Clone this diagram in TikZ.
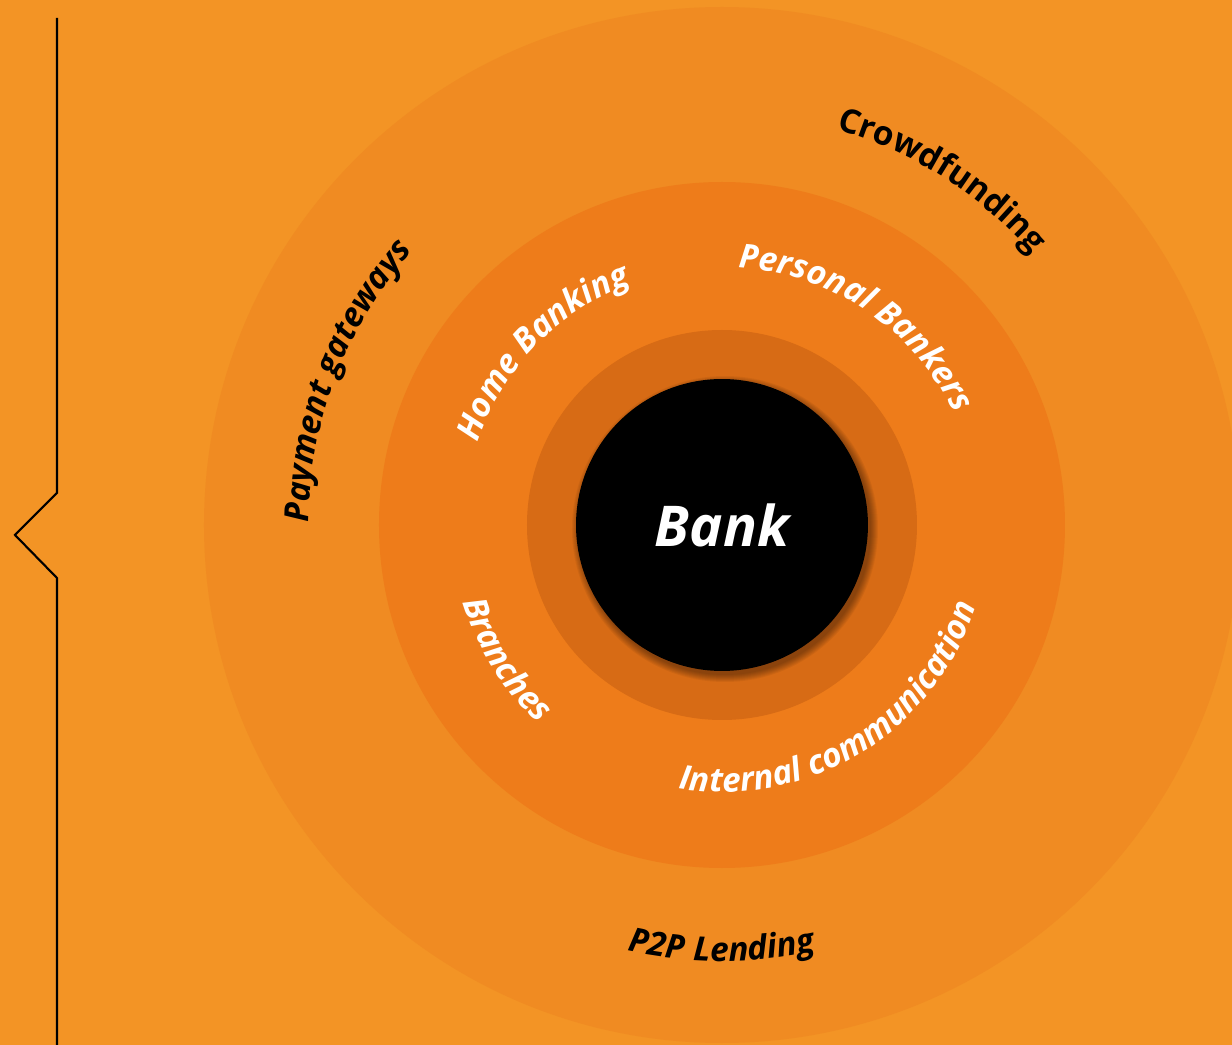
\documentclass[tikz,border=0pt]{standalone}
\usepackage{fontspec}
\setmainfont{Open Sans}
\usetikzlibrary{decorations.text}
\definecolor{bg}{HTML}{F39425}
\definecolor{ringa}{HTML}{F08B22}
\definecolor{ringb}{HTML}{EE7C1A}
\definecolor{ringc}{HTML}{D76B15}
\newcommand{\labelfont}{\fontsize{19}{22}\selectfont\bfseries}
% text on a ring, read clockwise, letters pointing outwards
\newcommand{\outlabel}[4]{
\path[decorate,decoration={text along path,text align=center,
  text={|\labelfont#3|#4}}] (#1+70:#2) arc [radius=#2,start angle=#1+70,end angle=#1-70];
}
% text on a ring, read anticlockwise, letters pointing inwards
\newcommand{\inlabel}[4]{
\path[decorate,decoration={text along path,text align=center,
  text={|\labelfont#3|#4}}] (#1-70:#2) arc [radius=#2,start angle=#1-70,end angle=#1+70];
}
\begin{document}
\begin{tikzpicture}[x=0.02cm,y=0.02cm]
\fill[bg] (-722,-520) rectangle (510,525);
\useasboundingbox (-722,-520) rectangle (510,525);
\fill[ringa] (0,0) circle [radius=518];
\fill[ringb] (0,0) circle [radius=343];
\fill[ringc] (0,0) circle [radius=195];
% soft shadow under the core
\foreach \k in {0,...,7}
  \fill[black,opacity=0.05] (3,-4) circle [radius=146+\k];
\node[circle,fill=black,minimum size=5.84cm,inner sep=0pt,text=white,
  font=\fontsize{32}{36}\selectfont\bfseries\itshape] (bank) at (0,0) {Bank};
\outlabel{57.5}{412}{\color{black}}{Crowdfunding}
\outlabel{159}{413}{\itshape\color{black}}{Payment gateways}
\outlabel{56}{258}{\itshape\color{white}}{Personal Bankers}
\outlabel{136}{258}{\itshape\color{white}}{Home Banking}
\inlabel{212}{270}{\itshape\color{white}}{Branches}
\inlabel{301.5}{267}{\itshape\color{white}}{Internal communication}
\inlabel{270}{436}{\itshape\color{black}}{P2P Lending}
% bracket on the left
\draw[line width=1.2pt] (-665,507) -- (-665,32) -- (-707,-10) -- (-665,-53) -- (-665,-520);
\end{tikzpicture}
\end{document}
